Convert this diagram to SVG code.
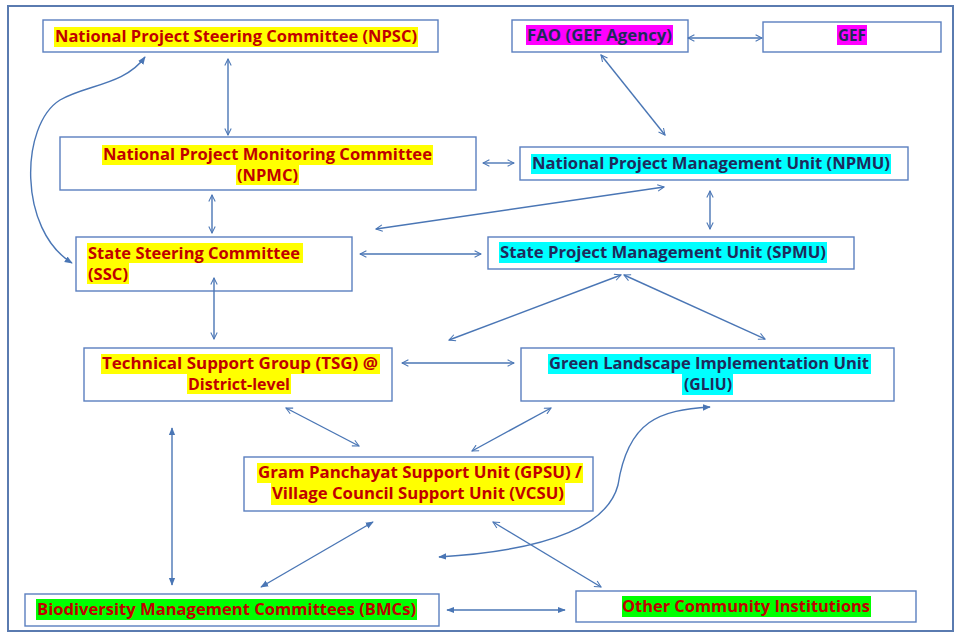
<svg xmlns="http://www.w3.org/2000/svg" width="955" height="632" viewBox="0 0 955 632">
<defs>
<marker id="v" viewBox="0 0 10 10" refX="9" refY="5" markerWidth="8" markerHeight="8" markerUnits="userSpaceOnUse" orient="auto-start-reverse">
<path d="M1,1 L9,5 L1,9" fill="none" stroke="#4a76b5" stroke-width="1.3"/>
</marker>
<marker id="t" viewBox="0 0 10 10" refX="9" refY="5" markerWidth="8" markerHeight="8" markerUnits="userSpaceOnUse" orient="auto-start-reverse">
<path d="M0,1 L10,5 L0,9 Z" fill="#4a76b5"/>
</marker>
<style>
.box{fill:#fff;stroke:#5b7fbf;stroke-width:1.4}
.c{fill:none;stroke:#4a76b5;stroke-width:1.4}
.o{marker-start:url(#v);marker-end:url(#v)}
.f{marker-start:url(#t);marker-end:url(#t)}
text{font-family:"Open Sans","Liberation Sans",sans-serif;font-weight:700;font-size:16px}
.r{fill:#c00000}
.n{fill:#1f2a5c}
.y{fill:#ffff00}
.cy{fill:#00ffff}
.m{fill:#ff00ff}
.g{fill:#00ff00}
</style>
</defs>
<rect x="0" y="0" width="955" height="632" fill="#fff"/>
<rect x="8" y="6" width="945" height="625" fill="none" stroke="#5a7bb0" stroke-width="2"/>

<g id="npsc">
<rect class="box" x="43" y="20" width="395" height="32"/>
<rect class="y" x="54" y="27" width="364" height="20"/>
<text class="r" x="55" y="42" textLength="362" lengthAdjust="spacingAndGlyphs">National Project Steering Committee (NPSC)</text>
</g>

<g id="fao">
<rect class="box" x="512" y="20" width="176" height="32"/>
<rect class="m" x="526" y="25" width="147" height="20"/>
<text class="n" x="527" y="41" textLength="145" lengthAdjust="spacingAndGlyphs">FAO (GEF Agency)</text>
</g>

<g id="gef">
<rect class="box" x="763" y="22" width="178" height="30"/>
<rect class="m" x="837" y="25" width="30" height="20"/>
<text class="n" x="838" y="41" textLength="28" lengthAdjust="spacingAndGlyphs">GEF</text>
</g>

<g id="npmc">
<rect class="box" x="60" y="137" width="416" height="53"/>
<rect class="y" x="102" y="145" width="331" height="20"/>
<rect class="y" x="236" y="165" width="63" height="20"/>
<text class="r" x="103" y="160" textLength="329" lengthAdjust="spacingAndGlyphs">National Project Monitoring Committee</text>
<text class="r" x="237" y="181" textLength="61" lengthAdjust="spacingAndGlyphs">(NPMC)</text>
</g>

<g id="npmu">
<rect class="box" x="520" y="147" width="388" height="33"/>
<rect class="cy" x="531" y="154" width="360" height="20"/>
<text class="n" x="532" y="169" textLength="358" lengthAdjust="spacingAndGlyphs">National Project Management Unit (NPMU)</text>
</g>

<g id="ssc">
<rect class="box" x="76" y="237" width="276" height="54"/>
<rect class="y" x="87" y="243" width="216" height="20"/>
<rect class="y" x="87" y="263" width="42" height="21"/>
<text class="r" x="88" y="259" textLength="212" lengthAdjust="spacingAndGlyphs">State Steering Committee</text>
<text class="r" x="88" y="280" textLength="40" lengthAdjust="spacingAndGlyphs">(SSC)</text>
</g>

<g id="spmu">
<rect class="box" x="488" y="237" width="366" height="32"/>
<rect class="cy" x="499" y="242" width="328" height="21"/>
<text class="n" x="500" y="258" textLength="326" lengthAdjust="spacingAndGlyphs">State Project Management Unit (SPMU)</text>
</g>

<g id="tsg">
<rect class="box" x="84" y="348" width="308" height="53"/>
<rect class="y" x="101" y="354" width="279" height="20"/>
<rect class="y" x="187" y="374" width="104" height="20"/>
<text class="r" x="102" y="369" textLength="276" lengthAdjust="spacingAndGlyphs">Technical Support Group (TSG) @</text>
<text class="r" x="188" y="390" textLength="102" lengthAdjust="spacingAndGlyphs">District-level</text>
</g>

<g id="gliu">
<rect class="box" x="521" y="348" width="373" height="53"/>
<rect class="cy" x="548" y="354" width="323" height="20"/>
<rect class="cy" x="682" y="374" width="51" height="21"/>
<text class="n" x="549" y="369" textLength="320" lengthAdjust="spacingAndGlyphs">Green Landscape Implementation Unit</text>
<text class="n" x="684" y="390" textLength="48" lengthAdjust="spacingAndGlyphs">(GLIU)</text>
</g>

<g id="gpsu">
<rect class="box" x="244" y="457" width="349" height="54"/>
<rect class="y" x="257" y="463" width="326" height="20"/>
<rect class="y" x="271" y="483" width="294" height="22"/>
<text class="r" x="258" y="478" textLength="324" lengthAdjust="spacingAndGlyphs">Gram Panchayat Support Unit (GPSU) /</text>
<text class="r" x="272" y="499" textLength="292" lengthAdjust="spacingAndGlyphs">Village Council Support Unit (VCSU)</text>
</g>

<g id="bmcs">
<rect class="box" x="25" y="594" width="414" height="32"/>
<rect class="g" x="36" y="599" width="381" height="21"/>
<text class="r" x="37" y="615" textLength="379" lengthAdjust="spacingAndGlyphs">Biodiversity Management Committees (BMCs)</text>
</g>

<g id="other">
<rect class="box" x="576" y="591" width="340" height="31"/>
<rect class="g" x="622" y="596" width="249" height="21"/>
<text class="r" x="622" y="612" textLength="248" lengthAdjust="spacingAndGlyphs">Other Community Institutions</text>
</g>

<g id="connectors">
<line class="c o" x1="228" y1="59" x2="228" y2="135"/>
<path class="c f" d="M145,57 C125,85 85,85 60,100 C20,125 18,230 72,263"/>
<line class="c o" x1="212" y1="195" x2="212" y2="233"/>
<line class="c o" x1="483" y1="163" x2="514" y2="163"/>
<line class="c o" x1="688" y1="38" x2="762" y2="38"/>
<line class="c o" x1="601" y1="55" x2="665" y2="135"/>
<line class="c o" x1="376" y1="229" x2="664" y2="187"/>
<line class="c o" x1="710" y1="191" x2="710" y2="229"/>
<line class="c o" x1="360" y1="254" x2="481" y2="254"/>
<line class="c o" x1="214" y1="278" x2="214" y2="339"/>
<line class="c o" x1="621" y1="275" x2="449" y2="340"/>
<line class="c o" x1="624" y1="275" x2="765" y2="339"/>
<line class="c o" x1="402" y1="363" x2="514" y2="363"/>
<line class="c o" x1="286" y1="408" x2="359" y2="446"/>
<line class="c o" x1="551" y1="408" x2="472" y2="451"/>
<line class="c f" x1="172" y1="428" x2="172" y2="585"/>
<line class="c f" x1="373" y1="522" x2="261" y2="587"/>
<line class="c o" x1="493" y1="522" x2="601" y2="587"/>
<path class="c f" d="M439,557 C520,552 605,535 618,485 C628,420 660,410 710,407"/>
<line class="c f" x1="447" y1="610" x2="565" y2="610"/>
</g>
</svg>
